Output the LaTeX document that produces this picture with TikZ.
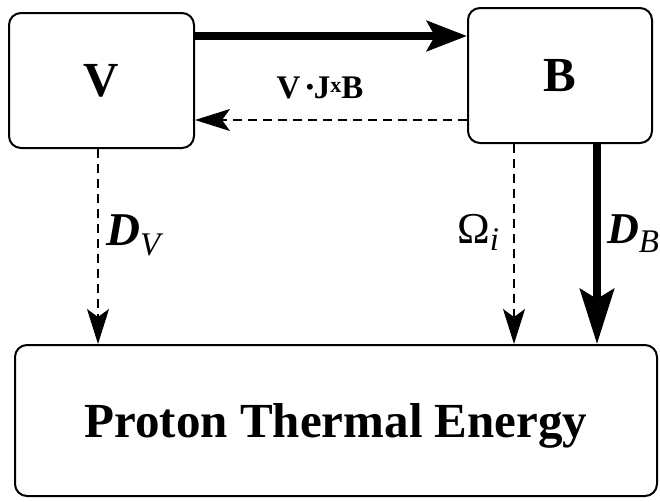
\documentclass[tikz,border=0pt]{standalone}
\usepackage{fontspec}
\setmainfont{Liberation Serif}
\usetikzlibrary{arrows.meta}
\newcommand{\lowidx}[2][9]{\raisebox{-#1pt}{\fontsize{33}{33}\selectfont\mdseries\itshape #2}}

\begin{document}
\begin{tikzpicture}[x=1pt, y=-1pt,
		box/.style={draw, line width=2pt, rounded corners=12pt, inner sep=0pt, text depth=0pt, font=\fontsize{49}{49}\selectfont\bfseries},
		lbl/.style={inner sep=0pt, font=\fontsize{44}{44}\selectfont},
		heavy/.style={line width=8pt, -{Stealth[length=40pt, width=30pt, inset=8pt]}},
		weak/.style={line width=1.5pt, dash pattern=on 9pt off 6pt, -{Stealth[length=35pt, width=22pt, inset=8pt]}}
		]
		\useasboundingbox (0,0) rectangle (660,501);
		% Boxes
		\node[box, minimum width=185pt, minimum height=135pt] (V) at (101.5,80.5) {V};
		\node[box, minimum width=184pt, minimum height=135pt] (B) at (560,75.5) {B};
		\node[box, minimum width=642pt, minimum height=151pt] (E) at (336,420.5) {Proton Thermal Energy};

		% Exchange between V and B
		\draw[heavy] ([yshift=44.5pt]V.east) -- ([yshift=44.5pt]V.east -| B.west);
		\draw[weak] ([yshift=-39.5pt]V.east -| B.west) -- ([yshift=-39.5pt]V.east);
		\node[inner sep=0pt, anchor=base, font=\fontsize{33}{33}\selectfont\bfseries] (VJB) at (320,98) {V\,\raisebox{4pt}{\fontsize{22}{22}\selectfont •}J\raisebox{6pt}{\fontsize{22}{22}\selectfont x}B};

		% Heating channels
		\draw[weak] ([xshift=-3.5pt]V.south) -- ([xshift=-3.5pt]V.south |- E.north);
		\draw[weak] ([xshift=-46pt]B.south) -- ([xshift=-46pt]B.south |- E.north);
		\draw[line width=8pt, -{Stealth[length=55pt, width=34pt, inset=10pt]}] ([xshift=37pt]B.south) -- ([xshift=37pt]B.south |- E.north);
		\node[lbl, anchor=base west, font=\fontsize{47}{47}\selectfont] (DV) at (106,245) {\textbf{\textit{D}}\lowidx[10]{V}};
		\node[lbl, anchor=base west] (Om) at (457,243) {Ω\lowidx[7]{i}};
		\node[lbl, anchor=base west] (DB) at (607,243) {\textbf{\textit{D}}\lowidx{B}};
	\end{tikzpicture}
\end{document}
